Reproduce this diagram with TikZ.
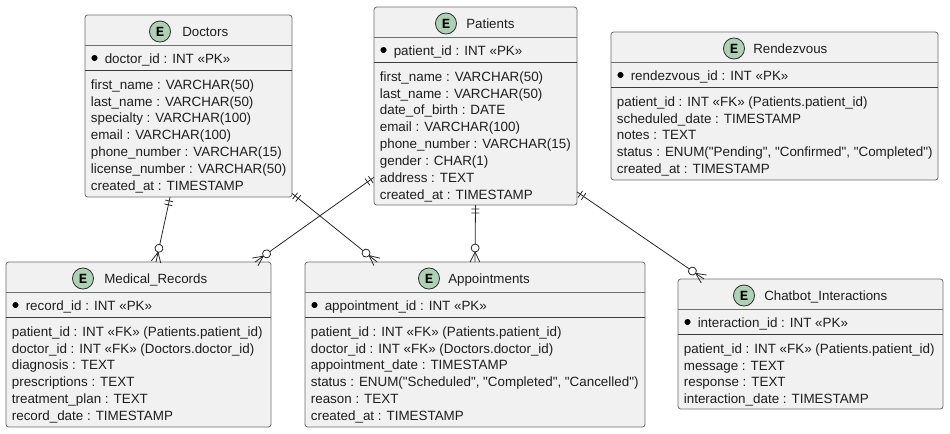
\documentclass[tikz,border=0pt]{standalone}
\usepackage{fontspec}
\setmainfont{Liberation Sans}[Ligatures=TeXOff]
\newfontfamily\iconfont{Liberation Mono}
\usetikzlibrary{calc,decorations.markings}
\definecolor{boxfill}{HTML}{F1F1F1}
\definecolor{boxline}{HTML}{6E6E6E}
\definecolor{sepline}{HTML}{3C3C3C}
\definecolor{iconfill}{HTML}{ADD1B2}
\definecolor{inkline}{HTML}{282828}
\definecolor{inktext}{HTML}{1E1E1E}
\newcount\rowcnt
\newcommand\ename{}
\newcommand\ex{}
\newcommand\ey{}
% \entity{name}{left}{top}{right}{bottom}{title}{icon x}{title x}
\newcommand\entity[8]{%
  \renewcommand\ename{#1}\renewcommand\ex{#2}\renewcommand\ey{#3}%
  \global\rowcnt=0
  \pgfmathsetlengthmacro\bw{(#4-#2)*0.75pt}%
  \pgfmathsetlengthmacro\bh{(#5-#3)*0.75pt}%
  \node[ebox,minimum width=\bw,minimum height=\bh] (#1) at (#2,#3) {};
  \draw[headrule] (#2,#3+30.5) -- (#4,#3+30.5);
  \draw[seprule] (#2,#3+55.5) -- (#4,#3+55.5);
  \node[eicon] (#1-icon) at (#7,#3+16.5) {E};
  \node[etitle] (#1-title) at (#8,#3+21.5) {#6};
}
\newcommand\pkrow[1]{%
  \node[ebullet] (\ename-bullet) at (\ex+9.5,\ey+43) {};
  \node[erow] (\ename-pk) at (\ex+19.5,\ey+48) {#1};
}
\newcommand\attr[1]{%
  \pgfmathsetmacro\rowy{\ey+74.2+16.83*\the\rowcnt}%
  \node[erow] (\ename-r\the\rowcnt) at (\ex+5.6,\rowy) {#1};
  \global\advance\rowcnt by 1
}
\tikzset{
  x=0.75pt,y=-0.75pt,
  ebox/.style={draw=boxline,fill=boxfill,line width=0.6pt,rounded corners=2pt,anchor=north west,inner sep=0pt,outer sep=0pt},
  headrule/.style={draw=boxline,line width=0.6pt},
  seprule/.style={draw=sepline,line width=0.75pt},
  eicon/.style={circle,draw=inkline,fill=iconfill,line width=0.6pt,minimum size=15.8pt,inner sep=0pt,font=\iconfont\bfseries\fontsize{10.5}{12}\selectfont,text=black},
  etitle/.style={anchor=base west,inner sep=0pt,font=\fontsize{10}{12}\selectfont,text=inktext},
  erow/.style={anchor=base west,inner sep=0pt,font=\fontsize{10.05}{12}\selectfont,text=inktext},
  ebullet/.style={circle,fill=black,minimum size=4.6pt,inner sep=0pt},
  relation/.style={draw=inkline,line width=0.6pt,postaction={decorate},decoration={markings,
    mark=at position 3pt with {\draw[line width=0.6pt,draw=inkline] (0,-3pt) -- (0,3pt);},
    mark=at position 6pt with {\draw[line width=0.6pt,draw=inkline] (0,-3pt) -- (0,3pt);},
    mark=at position -10.5pt with {\draw[line width=0.6pt,draw=inkline,fill=white] (0,0) circle (3pt);},
    mark=at position -7.5pt with {\draw[line width=0.6pt,draw=inkline] (0,0) -- (7.5pt,3.6pt) (0,0) -- (7.5pt,-3.6pt);}
  }},
}
\begin{document}
\begin{tikzpicture}
\useasboundingbox (0,0) rectangle (950,433);
\fill[white] (0,0) rectangle (950,433);

\entity{doctors}{85}{15}{292}{197}{Doctors}{160}{182}
\pkrow{doctor\_id : INT «PK»}
\attr{first\_name : VARCHAR(50)}
\attr{last\_name : VARCHAR(50)}
\attr{specialty : VARCHAR(100)}
\attr{email : VARCHAR(100)}
\attr{phone\_number : VARCHAR(15)}
\attr{license\_number : VARCHAR(50)}
\attr{created\_at : TIMESTAMP}

\entity{patients}{374}{7}{577}{205}{Patients}{446}{466}
\pkrow{patient\_id : INT «PK»}
\attr{first\_name : VARCHAR(50)}
\attr{last\_name : VARCHAR(50)}
\attr{date\_of\_birth : DATE}
\attr{email : VARCHAR(100)}
\attr{phone\_number : VARCHAR(15)}
\attr{gender : CHAR(1)}
\attr{address : TEXT}
\attr{created\_at : TIMESTAMP}

\entity{rendezvous}{611}{32}{938}{180}{Rendezvous}{734}{753}
\pkrow{rendezvous\_id : INT «PK»}
\attr{patient\_id : INT «FK» (Patients.patient\_id)}
\attr{scheduled\_date : TIMESTAMP}
\attr{notes : TEXT}
\attr{status : ENUM("Pending", "Confirmed", "Completed")}
\attr{created\_at : TIMESTAMP}

\entity{medical}{6}{262}{271}{427}{Medical\_Records}{83}{104}
\pkrow{record\_id : INT «PK»}
\attr{patient\_id : INT «FK» (Patients.patient\_id)}
\attr{doctor\_id : INT «FK» (Doctors.doctor\_id)}
\attr{diagnosis : TEXT}
\attr{prescriptions : TEXT}
\attr{treatment\_plan : TEXT}
\attr{record\_date : TIMESTAMP}

\entity{appointments}{305}{262}{645}{427}{Appointments}{429}{448}
\pkrow{appointment\_id : INT «PK»}
\attr{patient\_id : INT «FK» (Patients.patient\_id)}
\attr{doctor\_id : INT «FK» (Doctors.doctor\_id)}
\attr{appointment\_date : TIMESTAMP}
\attr{status : ENUM("Scheduled", "Completed", "Cancelled")}
\attr{reason : TEXT}
\attr{created\_at : TIMESTAMP}

\entity{chatbot}{678}{279}{943}{409}{Chatbot\_Interactions}{744}{764}
\pkrow{interaction\_id : INT «PK»}
\attr{patient\_id : INT «FK» (Patients.patient\_id)}
\attr{message : TEXT}
\attr{response : TEXT}
\attr{interaction\_date : TIMESTAMP}

% relations, each end a fraction along a named node's edge
\draw[relation] ($(doctors.south west)!0.411!(doctors.south east)$) -- ($(medical.north west)!0.566!(medical.north east)$);
\draw[relation] ($(doctors.south east)!0.02!(doctors.north east)$) -- ($(appointments.north west)!0.212!(appointments.north east)$);
\draw[relation] ($(patients.south west)!0.14!(patients.north west)$) -- ($(medical.north west)!0.94!(medical.north east)$);
\draw[relation] ($(patients.south west)!0.5!(patients.south east)$) -- ($(appointments.north west)!0.5!(appointments.north east)$);
\draw[relation] ($(patients.south east)!0.066!(patients.north east)$) -- ($(chatbot.north west)!0.098!(chatbot.north east)$);
\end{tikzpicture}
\end{document}
